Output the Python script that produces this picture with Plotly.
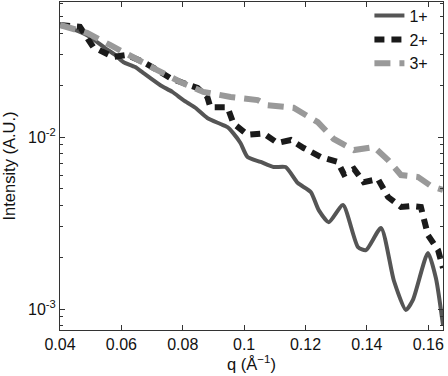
import plotly.graph_objects as go

q1 = [0.0400, 0.0449, 0.0498, 0.0547, 0.0580, 0.0606, 0.0645, 0.0671, 0.0727, 0.0766,
      0.0802, 0.0841, 0.0880, 0.0923, 0.0946, 0.0965, 0.0988, 0.1011, 0.1054, 0.1096,
      0.1135, 0.1175, 0.1217, 0.1243, 0.1276, 0.1322, 0.1371, 0.1397, 0.1446, 0.1488,
      0.1527, 0.1550, 0.1599, 0.1625, 0.1648]
i1 = [0.0448, 0.0419, 0.0381, 0.0329, 0.0300, 0.0273, 0.0255, 0.0236, 0.0200, 0.0183,
      0.0164, 0.0148, 0.0129, 0.0119, 0.0114, 0.0105, 0.00923, 0.00765, 0.00716, 0.00669,
      0.00669, 0.00540, 0.00479, 0.00376, 0.00320, 0.00402, 0.00229, 0.00220, 0.00296, 0.00146,
      0.000986, 0.00113, 0.00212, 0.00151, 0.000807]

q2 = [0.0400, 0.0465, 0.0508, 0.0573, 0.0619, 0.0671, 0.0717, 0.0759, 0.0802, 0.0848,
      0.0880, 0.0890, 0.0946, 0.0965, 0.1011, 0.1063, 0.1109, 0.1152, 0.1194, 0.1250,
      0.1305, 0.1325, 0.1358, 0.1390, 0.1436, 0.1469, 0.1511, 0.1544, 0.1576, 0.1599,
      0.1632, 0.1648]
i2 = [0.0448, 0.0437, 0.0334, 0.0292, 0.0300, 0.0273, 0.0245, 0.0220, 0.0206, 0.0193,
      0.0171, 0.0149, 0.0149, 0.0120, 0.0103, 0.0105, 0.00923, 0.00961, 0.00863, 0.00765,
      0.00716, 0.00609, 0.00652, 0.00547, 0.00570, 0.00448, 0.00392, 0.00397, 0.00392, 0.00269,
      0.00220, 0.00173]

q3 = [0.0400, 0.0488, 0.0563, 0.0639, 0.0717, 0.0792, 0.0867, 0.0956, 0.1044, 0.1076,
      0.1161, 0.1240, 0.1292, 0.1358, 0.1423, 0.1469, 0.1511, 0.1567, 0.1609, 0.1648]
i3 = [0.0448, 0.0403, 0.0343, 0.0288, 0.0245, 0.0209, 0.0183, 0.0171, 0.0164, 0.0153,
      0.0148, 0.0122, 0.00974, 0.00840, 0.00875, 0.00735, 0.00601, 0.00585, 0.00519, 0.00492]

x_ticks = [0.04, 0.06, 0.08, 0.1, 0.12, 0.14, 0.16]
x_labels = ["0.04", "0.06", "0.08", "0.1", "0.12", "0.14", "0.16"]
y_ticks = [0.001, 0.01]
y_labels = ["10<sup>-3</sup>", "10<sup>-2</sup>"]
y_minor = [0.0008, 0.0009, 0.002, 0.003, 0.004, 0.005, 0.006, 0.007, 0.008, 0.009,
           0.02, 0.03, 0.04, 0.05, 0.06]

fig = go.Figure()
fig.add_trace(go.Scatter(x=q1, y=i1, mode="lines", name="1+",
                         line=dict(color="#555555", width=4, shape="spline", smoothing=0.6)))
fig.add_trace(go.Scatter(x=q2, y=i2, mode="lines", name="2+",
                         line=dict(color="#1a1a1a", width=6, dash="10px,7px")))
fig.add_trace(go.Scatter(x=q3, y=i3, mode="lines", name="3+",
                         line=dict(color="#999999", width=6, dash="16px,9px")))

font = "Liberation Sans, Arial, sans-serif"
fig.update_layout(
    width=448, height=376,
    margin=dict(l=60, r=5, t=2, b=46, autoexpand=False),
    paper_bgcolor="white", plot_bgcolor="white",
    font=dict(family=font, size=16, color="#111111"),
    showlegend=True,
    legend=dict(x=0.975, y=1.01, xanchor="right", yanchor="top",
                bgcolor="rgba(0,0,0,0)", font=dict(size=16), tracegroupgap=0,
                itemwidth=30),
    xaxis=dict(range=[0.04, 0.1648], tickvals=x_ticks, ticktext=x_labels,
               ticks="inside", ticklen=5, tickcolor="#333", showline=True,
               linecolor="#333", linewidth=1, mirror="ticks", showgrid=False,
               zeroline=False, automargin=False,
               title=dict(text="q (Å<sup>−1</sup>)", font=dict(size=16.5), standoff=0)),
    yaxis=dict(type="log", range=[-3.122, -1.215], tickvals=y_ticks, ticktext=y_labels,
               ticks="inside", ticklen=5, tickcolor="#333", showline=True,
               linecolor="#333", linewidth=1, mirror="ticks", showgrid=False,
               zeroline=False, automargin=False,
               minor=dict(tickvals=y_minor, ticks="inside", ticklen=3, tickcolor="#333"),
               title=dict(text="Intensity (A.U.)", font=dict(size=16.5))),
)
fig.write_html("out.html", config={"displayModeBar": False},
               post_script="document.body.style.margin='0';document.body.style.overflow='hidden';")
